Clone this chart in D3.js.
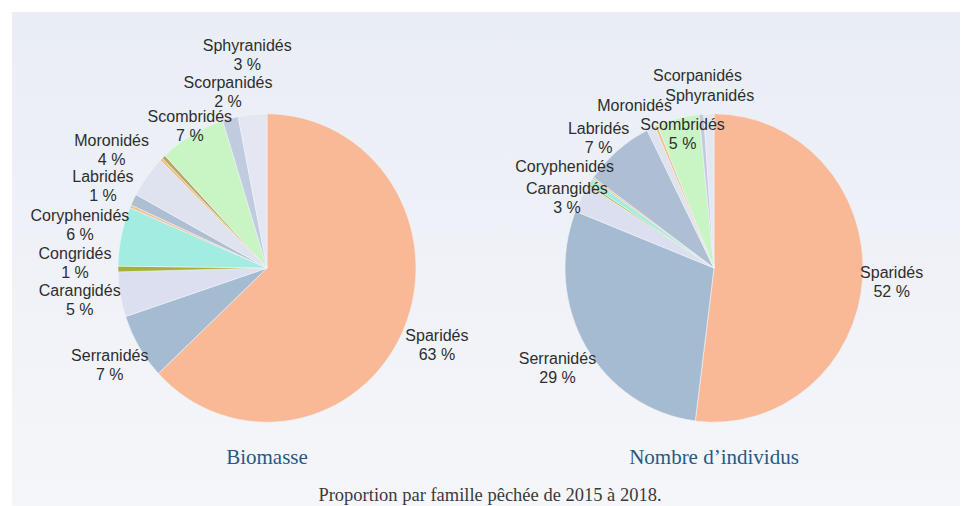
<!DOCTYPE html>
<html>
<head>
<meta charset="utf-8">
<script src="https://cdn.jsdelivr.net/npm/d3@7"></script>
<style>
   body { margin: 0; background: #ffffff; }
   svg { display: block; }
   .lbl { font-family: "Liberation Sans", Arial, sans-serif; font-size: 16px; fill: #2e2e2e; }
   .ttl { font-family: "Liberation Serif", "Times New Roman", serif; font-size: 21px; fill: #255a84; }
   .cap { font-family: "Liberation Serif", "Times New Roman", serif; font-size: 18.5px; fill: #3a3a3a; }
</style>
</head>
<body>
<script>
/*global d3*/
// families, in the clockwise order of the slices (starting at 12 o'clock)
var bioFamilies = ["Sparidés", "Serranidés", "Carangidés", "Congridés", "Coryphenidés", "Autre a",
      "Labridés", "Moronidés", "Autre b", "Autre c", "Scombridés", "Scorpanidés", "Sphyranidés"],
   bioValues = [63, 6.9, 4.7, 0.6, 6.2, 0.3, 1.2, 4.4, 0.3, 0.4, 7.2, 1.7, 3.1],
   // percent shown under the name ("" = name only, null = no label)
   bioPct = ["63 %", "7 %", "5 %", "1 %", "6 %", null, "1 %", "4 %", null, null, "7 %", "2 %", "3 %"],

   indFamilies = ["Sparidés", "Serranidés", "Carangidés", "Congridés", "Coryphenidés", "Autre a",
      "Labridés", "Moronidés", "Autre b", "Scombridés", "Scorpanidés", "Sphyranidés"],
   indValues = [52, 29, 3, 0.2, 0.6, 0.2, 7.6, 0.9, 0.3, 4.6, 0.5, 1.1],
   indPct = ["52 %", "29 %", "3 %", null, "", null, "7 %", "", null, "5 %", "", ""],

   titles = ["Biomasse", "Nombre d\u2019individus"],
   caption = "Proportion par famille pêchée de 2015 à 2018.";

(function () {
   "use strict";
   var width = 966,
      height = 506,
      radius = 149,
      labelRadius = 183,
      squash = 1.035, // the pies are a little taller than wide
      svg,
      grad,
      colors,
      bioNudge,
      indNudge;

   colors = d3.scaleOrdinal()
      .domain(["Sparidés", "Serranidés", "Carangidés", "Congridés", "Coryphenidés", "Autre a",
         "Labridés", "Moronidés", "Autre b", "Autre c", "Scombridés", "Scorpanidés", "Sphyranidés"])
      .range(["#f9b896", "#a5bbd2", "#dcdfef", "#a4b23c", "#a3ece1", "#f3c08e",
         "#aebfd3", "#dfe2ef", "#f2bf85", "#b9a864", "#c9f5c4", "#c0cbdf", "#e4e7f2"]);

   // hand tuned label shifts, the labels collide near the top of the pies
   bioNudge = {
      "Carangidés": [-7, -1], "Congridés": [-9, -6], "Coryphenidés": [-8, -4],
      "Moronidés": [-8, -6], "Labridés": [0, 2], "Scombridés": [15, 22],
      "Scorpanidés": [6, 8], "Sphyranidés": [-2, -24], "Sparidés": [2, 2]
   };
   indNudge = {
      "Sparidés": [-5, 2], "Serranidés": [1, 4], "Carangidés": [16, 16],
      "Coryphenidés": [2, 4], "Labridés": [3, 14], "Moronidés": [-2, 9],
      "Scombridés": [13, 50], "Scorpanidés": [-1, -4], "Sphyranidés": [2, 16]
   };

   svg = d3.select("body").append("svg")
      .attr("width", width)
      .attr("height", height);

   grad = svg.append("defs").append("linearGradient")
      .attr("id", "panel")
      .attr("x1", 0).attr("y1", 0).attr("x2", 0).attr("y2", 1);
   grad.append("stop").attr("offset", 0).attr("stop-color", "#e9edf5");
   grad.append("stop").attr("offset", 1).attr("stop-color", "#f5f6fa");

   svg.append("rect")
      .attr("x", 12)
      .attr("y", 12)
      .attr("width", 948)
      .attr("height", height - 12)
      .attr("fill", "url(#panel)");

   function drawPie(cx, cy, families, values, pct, nudge, title) {
      var rows = families.map(function (f, i) {
            return { family: f, value: values[i], pct: pct[i] };
         }),
         arcs = d3.pie().sort(null).value(function (d) { return d.value; })(rows),
         arc = d3.arc().innerRadius(0).outerRadius(radius),
         labelArc = d3.arc().innerRadius(labelRadius).outerRadius(labelRadius),
         g = svg.append("g").attr("transform", "translate(" + cx + "," + cy + ")"),
         labels;

      g.append("g")
         .attr("transform", "scale(1," + squash + ")")
         .selectAll("path")
         .data(arcs)
         .enter().append("path")
         .attr("d", arc)
         .attr("fill", function (d) { return colors(d.data.family); })
         .attr("stroke", "#f1f3f8")
         .attr("stroke-width", 0.6);

      labels = g.selectAll(".lbl")
         .data(arcs.filter(function (d) { return d.data.pct !== null; }))
         .enter().append("text")
         .attr("class", "lbl")
         .attr("text-anchor", "middle")
         .attr("transform", function (d) {
            var c = labelArc.centroid(d),
               n = nudge[d.data.family] || [0, 0];
            return "translate(" + (c[0] + n[0]) + "," + (c[1] * squash + n[1]) + ")";
         });

      labels.append("tspan")
         .attr("x", 0)
         .attr("y", function (d) { return d.data.pct ? -4 : 6; })
         .text(function (d) { return d.data.family; });
      labels.filter(function (d) { return d.data.pct; })
         .append("tspan")
         .attr("x", 0)
         .attr("y", 15)
         .text(function (d) { return d.data.pct; });

      svg.append("text")
         .attr("class", "ttl")
         .attr("text-anchor", "middle")
         .attr("x", cx)
         .attr("y", 464)
         .text(title);
   }

   drawPie(267, 268, bioFamilies, bioValues, bioPct, bioNudge, titles[0]);
   drawPie(714, 268, indFamilies, indValues, indPct, indNudge, titles[1]);

   // caption sits right at the bottom edge, as in the original slide
   svg.append("text")
      .attr("class", "cap")
      .attr("text-anchor", "middle")
      .attr("x", 490)
      .attr("y", 501)
      .text(caption);
}());
</script>
</body>
</html>
